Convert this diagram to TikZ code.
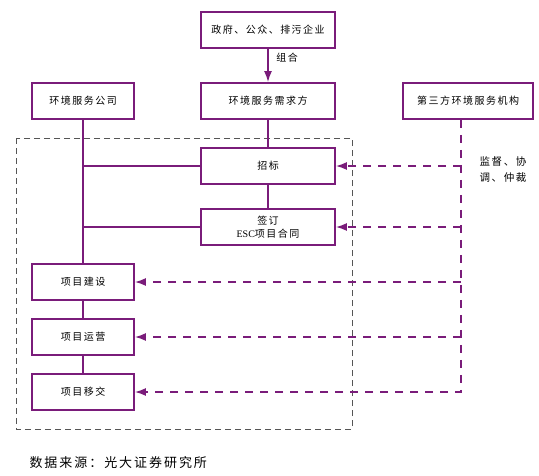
\documentclass[tikz,border=0pt]{standalone}
\usepackage{fontspec}
\setmainfont{Liberation Serif}
\newfontfamily\cjk[LetterSpace=15]{Noto Sans CJK SC}
\usetikzlibrary{arrows.meta}
\definecolor{ESCPurple}{RGB}{122,28,122}
\definecolor{ESCGray}{RGB}{85,85,85}

\begin{document}
\begin{tikzpicture}[x=1pt,y=-1pt,
box/.style={rectangle,draw=ESCPurple,line width=1.8pt,fill=white,
minimum height=36pt,align=center,inner sep=1pt,font=\cjk\fontsize{10}{13}\selectfont},
link/.style={draw=ESCPurple,line width=1.6pt},
arrow/.style={-{Latex[length=11pt,width=8pt]},line width=1.6pt,draw=ESCPurple},
dasharrow/.style={-{Latex[length=11pt,width=8pt]},line width=1.6pt,draw=ESCPurple,dash pattern=on 8pt off 7pt},
frame/.style={draw=ESCGray,line width=1pt,dash pattern=on 6pt off 4pt}
]
\useasboundingbox (0,0) rectangle (539,475);
\draw[frame] (16,138) rectangle (352,429);
\node[box,minimum width=134pt] (gov) at (268,30) {政府、公众、排污企业};
\node[box,minimum width=134pt] (demand) at (268,101) {环境服务需求方};
\node[box,minimum width=102pt] (company) at (83,101) {环境服务公司};
\node[box,minimum width=130pt] (third) at (468,101) {第三方环境服务机构};
\node[box,minimum width=134pt] (bid) at (268,166) {招标};
\node[box,minimum width=134pt] (sign) at (268,227) {签订\\{\rmfamily ESC}项目合同};
\node[box,minimum width=102pt] (build) at (83,282) {项目建设};
\node[box,minimum width=102pt] (run) at (83,337) {项目运营};
\node[box,minimum width=102pt] (hand) at (83,392) {项目移交};
\node[font=\cjk\fontsize{10}{13}\selectfont] (combo) at (287,58) {组合};
\node[font=\cjk\fontsize{10.5}{16}\selectfont,align=left] (supervise) at (503,169) {监督、协\\调、仲裁};
\node[font=\cjk\fontsize{13}{15}\selectfont,anchor=west] (source) at (26,463) {数据来源：光大证券研究所};
\coordinate (v) at (461,0);
% solid links
\draw[arrow] (gov)--(demand);
\draw[link] (demand)--(bid); \draw[link] (bid)--(sign);
\draw[link] (company)--(build); \draw[link] (build)--(run); \draw[link] (run)--(hand);
\draw[link] (bid.west)--(bid.west -| company); \draw[link] (sign.west)--(sign.west -| company);
% dashed supervision
\draw[dasharrow] (third.south -| v) |- (hand.east);
\draw[dasharrow] (bid.east -| v)--(bid.east); \draw[dasharrow] (sign.east -| v)--(sign.east);
\draw[dasharrow] (build.east -| v)--(build.east); \draw[dasharrow] (run.east -| v)--(run.east);
\end{tikzpicture}
\end{document}
